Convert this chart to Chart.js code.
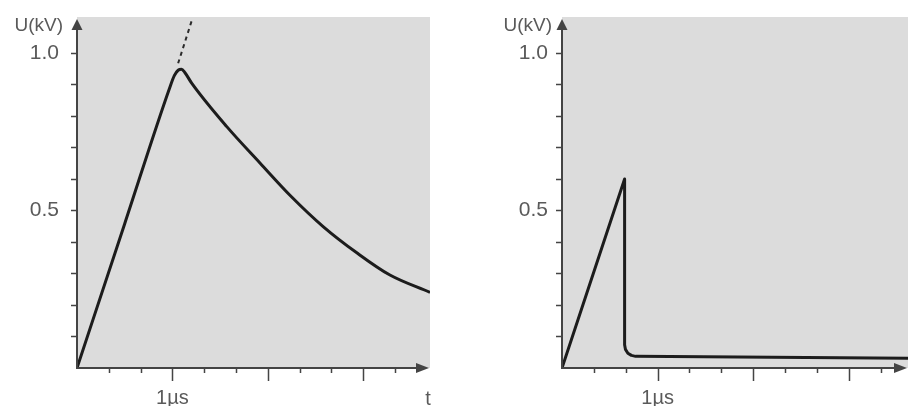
<!DOCTYPE html>
<html lang="en">
<head>
    <meta charset="UTF-8">
    <title>Voltage pulses</title>
    <style>
        body { margin: 0; background: #fff; }
        #wrap { position: relative; width: 908px; height: 406px; }
        #wrap canvas { position: absolute; top: 0; }
    </style>
</head>
<body>
    <div id="wrap">
        <canvas id="leftChart" width="454" height="406" style="left:0"></canvas>
        <canvas id="rightChart" width="454" height="406" style="left:454px"></canvas>
    </div>

    <script src="https://cdn.jsdelivr.net/npm/chart.js@4"></script>
    <script>
        // left pulse: linear rise, rounded top, slow decay (time in us, voltage in kV)
        const leftTime = [0, 0.5, 0.97, 1.02, 1.06, 1.095, 1.13, 1.2, 1.57, 1.92, 2.24, 2.58, 2.94, 3.28, 3.70];
        const leftVolt = [0, 0.458, 0.888, 0.928, 0.945, 0.948, 0.938, 0.905, 0.766, 0.65, 0.546, 0.449, 0.364, 0.295, 0.24];

        // dashed continuation of the rise
        const dashTime = [1.06, 1.20];
        const dashVolt = [0.967, 1.10];

        // right pulse: rise, then sudden collapse with a rounded foot
        const rightTime = [0, 0.655, 0.655, 0.664, 0.689, 0.726, 0.77, 3.62];
        const rightVolt = [0, 0.60, 0.074, 0.059, 0.047, 0.040, 0.037, 0.031];

        const xTicks = [0, 0.333, 0.667, 1, 1.333, 1.667, 2, 2.333, 2.667, 3, 3.333];
        const yTicks = [0, 0.1, 0.2, 0.3, 0.4, 0.5, 0.6, 0.7, 0.8, 0.9, 1.0];
        const xTickLabels = { 1: '1µs' };
        const yTickLabels = { 0.5: '0.5', 1: '1.0' };
        const yAxisName = 'U(kV)';
        const xAxisName = 't';

        const textColor = '#5a5a5a';
        const axisColor = '#444444';
        const plotBg = '#dcdcdc';
        const fontFamily = "'Liberation Sans', Arial, sans-serif";

        function toPoints(xs, ys) {
            return xs.map((x, i) => ({ x: x, y: ys[i] }));
        }

        const pulseAxes = {
            id: 'pulseAxes',
            beforeDraw(chart) {
                const a = chart.chartArea;
                const ctx = chart.ctx;
                ctx.save();
                ctx.fillStyle = plotBg;
                ctx.fillRect(a.left, a.top, a.right - a.left, a.bottom - a.top);
                ctx.restore();
            },
            afterDraw(chart, args, opts) {
                const ctx = chart.ctx;
                const a = chart.chartArea;
                const xs = chart.scales.x, ys = chart.scales.y;
                const x0 = xs.getPixelForValue(0);
                const y0 = ys.getPixelForValue(0);
                ctx.save();
                ctx.strokeStyle = axisColor;
                ctx.fillStyle = axisColor;
                ctx.lineWidth = 2;

                // axis lines
                ctx.beginPath();
                ctx.moveTo(x0, y0 + 1);
                ctx.lineTo(x0, a.top + 8);
                ctx.moveTo(x0 - 1, y0);
                ctx.lineTo(a.right - 8, y0);
                ctx.stroke();

                // arrow heads
                ctx.beginPath();
                ctx.moveTo(x0, a.top + 2);
                ctx.lineTo(x0 - 5.5, a.top + 13);
                ctx.lineTo(x0 + 5.5, a.top + 13);
                ctx.closePath();
                ctx.fill();
                ctx.beginPath();
                ctx.moveTo(a.right - 1, y0);
                ctx.lineTo(a.right - 14, y0 - 5);
                ctx.lineTo(a.right - 14, y0 + 5);
                ctx.closePath();
                ctx.fill();

                // tick marks, long ones on whole microseconds
                ctx.lineWidth = 1.5;
                ctx.beginPath();
                xs.ticks.forEach(t => {
                    if (t.value === 0) return;
                    const px = Math.round(xs.getPixelForValue(t.value)) + 0.5;
                    const len = Number.isInteger(t.value) ? 13 : 5;
                    ctx.moveTo(px, y0);
                    ctx.lineTo(px, y0 + len);
                });
                ys.ticks.forEach(t => {
                    if (t.value === 0) return;
                    const py = Math.round(ys.getPixelForValue(t.value)) + 0.5;
                    ctx.moveTo(x0 - 6, py);
                    ctx.lineTo(x0, py);
                });
                ctx.stroke();

                // axis names
                ctx.fillStyle = textColor;
                ctx.font = '19px ' + fontFamily;
                ctx.textAlign = 'right';
                ctx.textBaseline = 'middle';
                ctx.fillText(yAxisName, x0 - opts.nameGap, a.top + 9);
                if (opts.showTime) {
                    ctx.font = '20px ' + fontFamily;
                    ctx.textAlign = 'center';
                    ctx.fillText(xAxisName, a.right - 2, y0 + 31);
                }
                ctx.restore();
            }
        };

        function buildChart(canvasId, datasets, xMax, yAxisWidth, rightPad, yLabelPad, nameGap, showTime) {
            const ctx = document.getElementById(canvasId).getContext('2d');
            return new Chart(ctx, {
                type: 'line',
                data: { datasets: datasets },
                options: {
                    responsive: false,
                    animation: false,
                    events: [],
                    layout: { padding: { top: 17, right: rightPad, left: 0, bottom: 0 } },
                    plugins: {
                        legend: { display: false },
                        tooltip: { enabled: false },
                        pulseAxes: { nameGap: nameGap, showTime: showTime }
                    },
                    elements: { point: { radius: 0 } },
                    scales: {
                        x: {
                            type: 'linear',
                            min: 0,
                            max: xMax,
                            afterBuildTicks: s => { s.ticks = xTicks.map(v => ({ value: v })); },
                            afterFit: s => { s.height = 38; s.paddingLeft = 0; s.paddingRight = 0; },
                            grid: { drawOnChartArea: false, tickLength: 14, tickColor: 'rgba(0,0,0,0)' },
                            border: { display: false },
                            ticks: {
                                autoSkip: false,
                                maxRotation: 0,
                                padding: 4,
                                color: textColor,
                                font: { family: fontFamily, size: 20 },
                                callback: v => xTickLabels[v] || ''
                            }
                        },
                        y: {
                            min: 0,
                            max: 1.114,
                            afterBuildTicks: s => { s.ticks = yTicks.map(v => ({ value: v })); },
                            afterFit: s => { s.width = yAxisWidth; s.paddingTop = 0; s.paddingBottom = 0; },
                            grid: { drawOnChartArea: false, tickLength: 6, tickColor: 'rgba(0,0,0,0)' },
                            border: { display: false },
                            ticks: {
                                padding: yLabelPad,
                                color: textColor,
                                font: { family: fontFamily, size: 21 },
                                callback: v => yTickLabels[v] || ''
                            }
                        }
                    }
                },
                plugins: [pulseAxes]
            });
        }

        buildChart('leftChart', [
            {
                data: toPoints(leftTime, leftVolt),
                borderColor: '#1c1c1c',
                borderWidth: 3,
                cubicInterpolationMode: 'monotone',
                fill: false
            },
            {
                data: toPoints(dashTime, dashVolt),
                borderColor: '#2a2a2a',
                borderWidth: 2,
                borderDash: [4, 4],
                fill: false
            }
        ], 3.70, 77, 24, 12, 14, true);

        buildChart('rightChart', [
            {
                data: toPoints(rightTime, rightVolt),
                borderColor: '#1c1c1c',
                borderWidth: 3,
                tension: 0,
                borderJoinStyle: 'round',
                fill: false
            }
        ], 3.62, 108, 0, 8, 10, false);
    </script>
</body>
</html>
